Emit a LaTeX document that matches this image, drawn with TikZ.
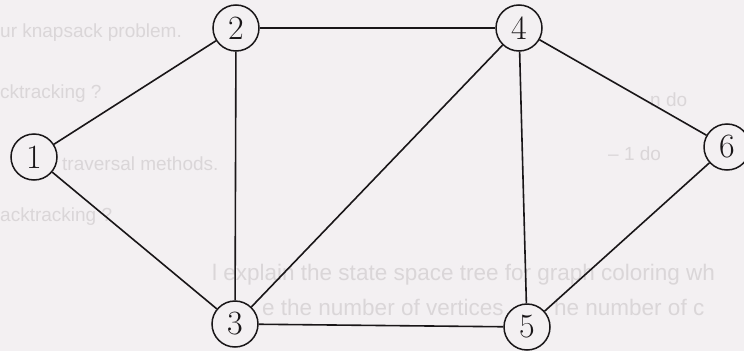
\documentclass[tikz,border=0pt]{standalone}
\usepackage{fontspec}
\newfontfamily\bgfont{Liberation Sans}
\definecolor{bg}{RGB}{243,240,242}
\definecolor{ghost}{RGB}{218,214,216}
\definecolor{ink}{RGB}{25,22,24}
\begin{document}
\begin{tikzpicture}[x=1pt,y=-1pt,
  vtx/.style={circle, draw=ink, line width=1.5pt, minimum size=46pt, inner sep=0pt, fill=bg,
    font=\fontsize{34}{34}\selectfont, text=ink},
  edge/.style={draw=ink, line width=1.6pt},
  ghosttext/.style={anchor=base west, inner sep=0pt, text=ghost, font=\bgfont\fontsize{19}{19}\selectfont},
  ghostbig/.style={ghosttext, font=\bgfont\fontsize{22.5}{22.5}\selectfont}]
\fill[bg] (0,0) rectangle (744,351);
\useasboundingbox (0,0) rectangle (744,351);
\clip (0,0) rectangle (744,351);
% faint show-through text
\node[ghosttext] (g1) at (0,37) {ur knapsack problem.};
\node[ghosttext] (g2) at (0,98) {cktracking ?};
\node[ghosttext] (g3) at (62,170) {traversal methods.};
\node[ghosttext] (g4) at (0,221) {acktracking ?};
\node[ghostbig] (g5) at (212,280) {l explain the state space tree for graph coloring wh};
\node[ghostbig] (g6) at (262,315) {e the number of vertices};
\node[ghostbig] (g6b) at (554,315) {he number of c};
\node[ghosttext] (g7) at (650,106) {n do};
\node[ghosttext] (g8) at (608,160) {– 1 do};
% vertices
\node[vtx] (n1) at (34,157) {1};
\node[vtx] (n2) at (236,28) {2};
\node[vtx] (n4) at (519,28) {4};
\node[vtx] (n6) at (727,147) {6};
\node[vtx] (n3) at (235,324) {3};
\node[vtx] (n5) at (527,327) {5};
% edges
\draw[edge] (n1) -- (n2);
\draw[edge] (n1) -- (n3);
\draw[edge] (n2) -- (n4);
\draw[edge] (n2) -- (n3);
\draw[edge] (n3) -- (n4);
\draw[edge] (n3) -- (n5);
\draw[edge] (n4) -- (n5);
\draw[edge] (n4) -- (n6);
\draw[edge] (n5) -- (n6);
\end{tikzpicture}
\end{document}
